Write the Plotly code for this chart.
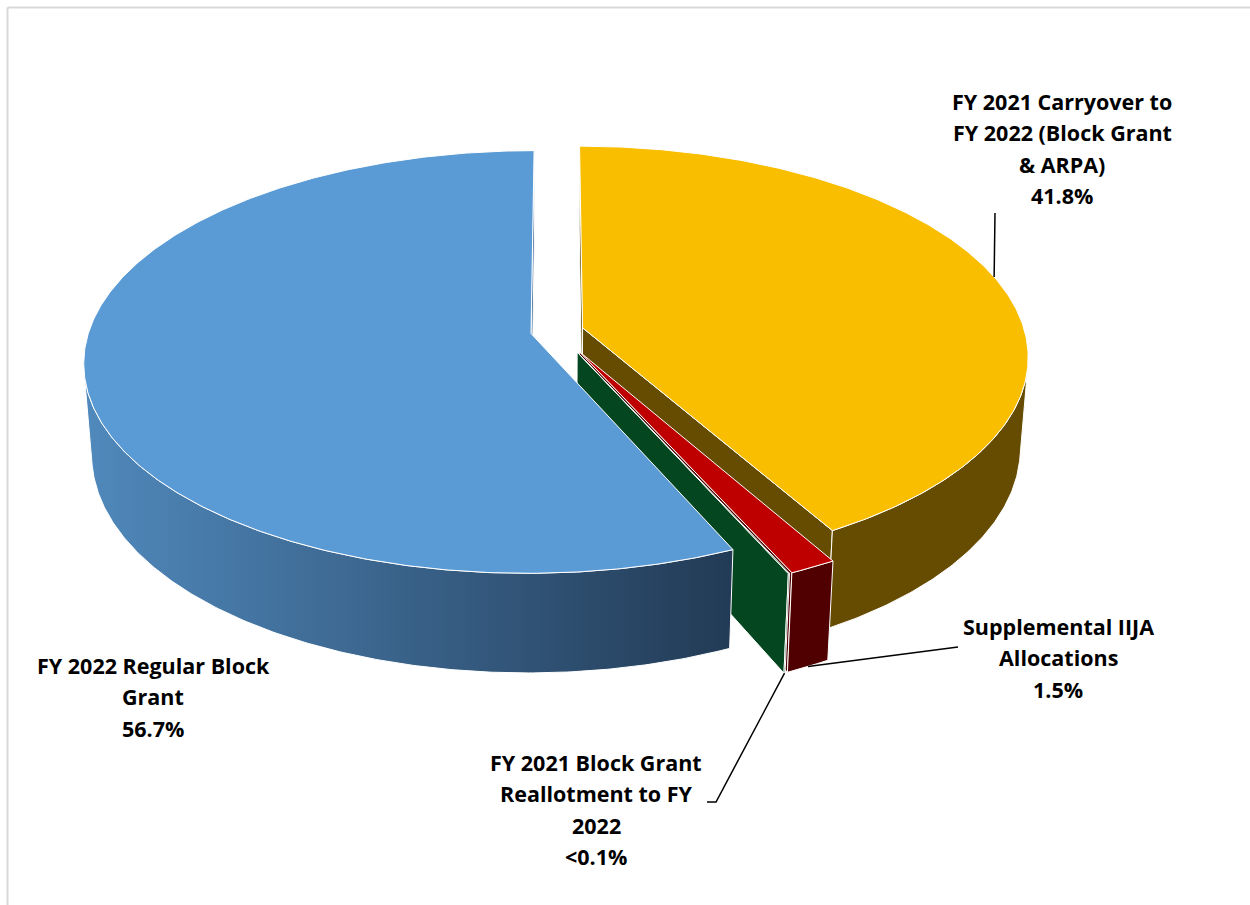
import numpy as np
import plotly.graph_objects as go

# ---- data (clockwise from 12 o'clock) ----
categories = [
    "FY 2021 Carryover to FY 2022 (Block Grant & ARPA)",
    "Supplemental IIJA Allocations",
    "FY 2021 Block Grant Reallotment to FY 2022",
    "FY 2022 Regular Block Grant",
]
shares = [41.8, 1.5, 0.04, 56.7]
share_text = ["41.8%", "1.5%", "<0.1%", "56.7%"]

label_lines = [
    ["FY 2021 Carryover to", "FY 2022 (Block Grant", "& ARPA)", share_text[0]],
    ["Supplemental IIJA", "Allocations", share_text[1]],
    ["FY 2021 Block Grant", "Reallotment to FY", "2022", share_text[2]],
    ["FY 2022 Regular Block", "Grant", share_text[3]],
]

# ---- styling ----
top_colors = ["#F9BE00", "#BF0000", "#0B6B33", "#5B9BD5"]
side_colors = ["#664C00", "#500000", "#03461F", "#3A6591"]
side_gradient = [None, None, None, [[0, "#5089BC"], [1, "#223A55"]]]
pulls = [0.06, 0.11, 0.11, 0.06]

# label anchor (centre x, first line y) and leader-line elbows
label_pos = [(1062, 101), (1058, 626), (596, 762), (153, 665)]
line_gap = 31.5
leader_to = [
    [(995, 213)],
    [(958, 647)],
    [(716, 802), (707, 802)],
    None,
]
label_font = dict(family="Open Sans", size=21.5, color="black", weight="bold")

# ---- 3-D projection ----
W, H_PX = 1250, 905
CX, CY = 557, 331
SCALE = 442
ELEV = np.radians(27.9)
DIST = 6.59
THICK = 0.235
sinE, cosE = np.sin(ELEV), np.cos(ELEV)
CAM = np.array([0.0, DIST * sinE, DIST * cosE])


def project(X, Y, Z):
    X, Y, Z = np.asarray(X, float), np.asarray(Y, float), np.asarray(Z, float)
    dc = Z * cosE + Y * sinE
    up = -Z * sinE + Y * cosE
    f = DIST / (DIST - dc)
    return CX + SCALE * f * X, CY - SCALE * f * up


def rim(a_deg, ox, oz, y):
    r = np.radians(a_deg)
    return ox + np.sin(r), np.full_like(np.asarray(r, float), y), oz - np.cos(r)


total = sum(shares)
bounds = np.concatenate([[0], np.cumsum(shares) / total * 360.0])

walls = []
tops = []
anchors = []
for i, v in enumerate(shares):
    a0, a1 = bounds[i], bounds[i + 1]
    mid = np.radians((a0 + a1) / 2)
    ox, oz = pulls[i] * np.sin(mid), -pulls[i] * np.cos(mid)
    n = max(3, int((a1 - a0) / 0.5) + 2)
    ang = np.linspace(a0, a1, n)

    # top face
    tx, ty, tz = rim(ang, ox, oz, 0.0)
    px, py = project(np.r_[ox, tx, ox], np.r_[0, ty, 0], np.r_[oz, tz, oz])
    tops.append((px, py, top_colors[i], None))

    # outer wall, front-facing part only
    mx, my, mz = rim(ang, ox, oz, -THICK / 2)
    r = np.radians(ang)
    nx, nz = np.sin(r), -np.cos(r)
    vis = nx * (CAM[0] - mx) + nz * (CAM[2] - mz) > 0
    idx = np.where(vis)[0]
    if idx.size >= 2:
        runs = np.split(idx, np.where(np.diff(idx) > 1)[0] + 1)
        for run in runs:
            if run.size < 2:
                continue
            aa = ang[run]
            x1, y1, z1 = rim(aa, ox, oz, 0.0)
            x2, y2, z2 = rim(aa[::-1], ox, oz, -THICK)
            X = np.r_[x1, x2, x1[0]]
            Y = np.r_[y1, y2, y1[0]]
            Z = np.r_[z1, z2, z1[0]]
            cen = np.array([X.mean(), -THICK / 2, Z.mean()])
            px, py = project(X, Y, Z)
            walls.append((np.linalg.norm(CAM - cen), px, py, side_colors[i], side_gradient[i]))

    # radial walls
    for a, sgn in ((a0, -1), (a1, 1)):
        ra = np.radians(a + sgn * 90)
        nvec = np.array([np.sin(ra), 0, -np.cos(ra)])
        ex, _, ez = rim(a, ox, oz, 0.0)
        X = np.array([ox, ex, ex, ox, ox])
        Y = np.array([0, 0, -THICK, -THICK, 0])
        Z = np.array([oz, ez, ez, oz, oz])
        cen = np.array([X[:4].mean(), -THICK / 2, Z[:4].mean()])
        if np.dot(nvec, CAM - cen) > 0:
            px, py = project(X, Y, Z)
            walls.append((np.linalg.norm(CAM - cen), px, py, side_colors[i], None))

    # leader anchor on the rim at the mid angle
    am = (a0 + a1) / 2
    ytop = 0.0 if i == 0 else -THICK
    ax_, ay_, az_ = rim(am, ox, oz, ytop)
    anchors.append(project(ax_, ay_, az_))

fig = go.Figure()

walls.sort(key=lambda w: -w[0])
for _, px, py, col, grad in walls:
    kw = dict(fillcolor=col)
    if grad is not None:
        kw = dict(fillgradient=dict(type="horizontal", colorscale=grad))
    fig.add_trace(go.Scatter(x=px, y=py, mode="lines", fill="toself",
                             line=dict(color="white", width=1),
                             hoverinfo="skip", showlegend=False, **kw))
for px, py, col, _ in tops:
    fig.add_trace(go.Scatter(x=px, y=py, mode="lines", fill="toself", fillcolor=col,
                             line=dict(color="white", width=1),
                             hoverinfo="skip", showlegend=False))

# leader lines
for i, pts in enumerate(leader_to):
    if not pts:
        continue
    ax_, ay_ = anchors[i]
    xs = [float(ax_)] + [p[0] for p in pts]
    ys = [float(ay_)] + [p[1] for p in pts]
    fig.add_trace(go.Scatter(x=xs, y=ys, mode="lines", line=dict(color="black", width=1.5),
                             hoverinfo="skip", showlegend=False))

# labels
for (cx, y0), lines in zip(label_pos, label_lines):
    for k, t in enumerate(lines):
        fig.add_annotation(x=cx, y=y0 + k * line_gap, text=t, showarrow=False,
                           xanchor="center", yanchor="middle", font=label_font)

# outer frame
fig.add_shape(type="line", x0=7.5, y0=7.5, x1=W, y1=7.5, line=dict(color="#D9D9D9", width=2))
fig.add_shape(type="line", x0=7.5, y0=7.5, x1=7.5, y1=H_PX, line=dict(color="#D9D9D9", width=2))

fig.update_layout(
    width=W, height=H_PX,
    margin=dict(l=0, r=0, t=0, b=0),
    paper_bgcolor="white", plot_bgcolor="white",
    xaxis=dict(range=[0, W], visible=False, fixedrange=True),
    yaxis=dict(range=[H_PX, 0], visible=False, fixedrange=True),
    showlegend=False,
)

fig.write_html("out.html")
